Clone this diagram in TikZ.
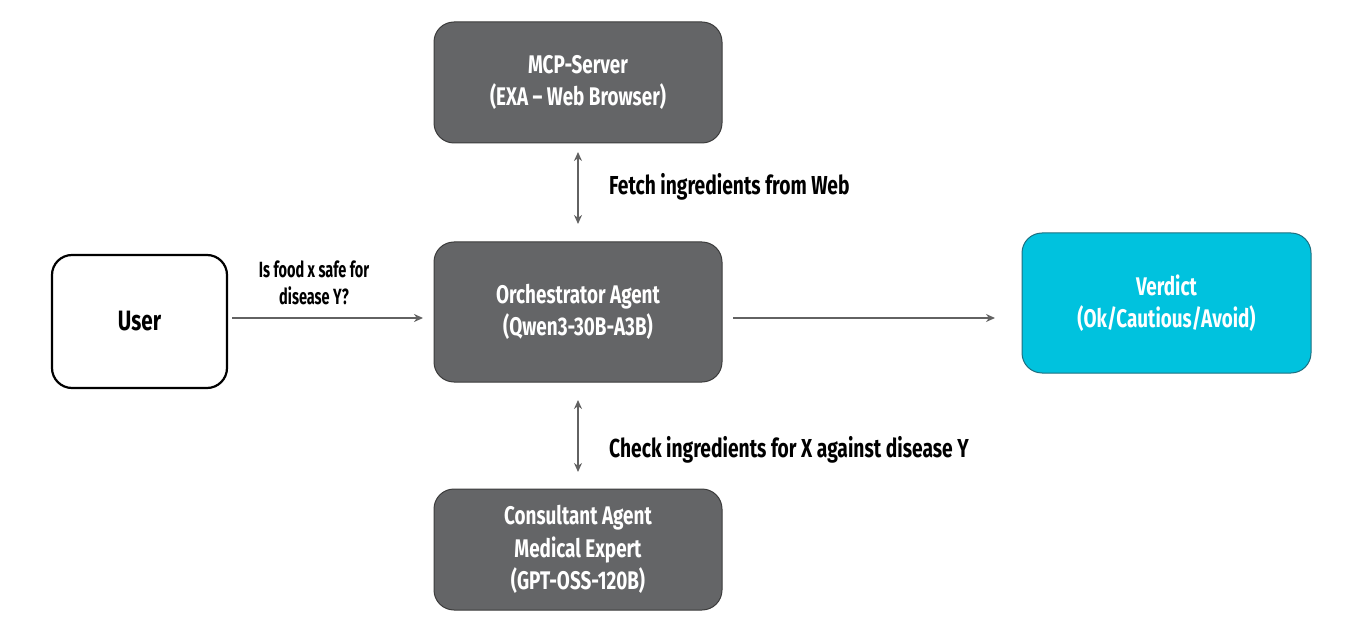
\documentclass[tikz,border=0pt]{standalone}
\usepackage{fontspec}
\setmainfont{Fira Sans}[FakeStretch=0.74]
\newfontfamily\narrowfont{Fira Sans}[FakeStretch=0.66]
\usetikzlibrary{arrows.meta}
\definecolor{boxgray}{HTML}{646567}
\definecolor{boxedge}{HTML}{3C3C3C}
\definecolor{verdictfill}{HTML}{00C2DE}
\definecolor{verdictedge}{HTML}{1E6F80}
\definecolor{arrowgray}{HTML}{626262}
\tikzset{
  graybox/.style={draw=boxedge, line width=1pt, fill=boxgray, rounded corners=20pt, text=white, align=center, font=\bfseries\fontsize{25.5}{32.5}\selectfont, minimum width=288pt, inner sep=0pt},
  userbox/.style={draw=black, line width=2.2pt, fill=white, rounded corners=20pt, text=black, align=center, font=\bfseries\fontsize{28}{32}\selectfont, minimum width=175pt, minimum height=133pt, inner sep=0pt},
  verdictbox/.style={draw=verdictedge, line width=1pt, fill=verdictfill, rounded corners=20pt, text=white, align=center, font=\bfseries\fontsize{25.5}{32.5}\selectfont, minimum width=289pt, minimum height=140pt, inner sep=0pt},
  conn/.style={draw=arrowgray, line width=2.4pt, -{Stealth[length=9pt,width=8pt]}},
  biconn/.style={draw=arrowgray, line width=2.4pt, {Stealth[length=9pt,width=8pt]}-{Stealth[length=9pt,width=8pt]}},
  lbl/.style={text=black, font=\bfseries\fontsize{26}{27}\selectfont, inner sep=0pt},
  smalllbl/.style={text=black, font=\narrowfont\bfseries\fontsize{22}{27}\selectfont, inner sep=0pt, align=center},
}
\begin{document}
\begin{tikzpicture}[x=1pt,y=-1pt]
\useasboundingbox (0,0) rectangle (1345,631);
\node[graybox, minimum height=121pt] (mcp) at (578,82.5) {MCP-Server\\(EXA -- Web Browser)};
\node[graybox, minimum height=140pt] (orch) at (578,312) {Orchestrator Agent\\(Qwen3-30B-A3B)};
\node[graybox, minimum height=121pt] (cons) at (578,549.5) {Consultant Agent\\Medical Expert\\(GPT-OSS-120B)};
\node[userbox] (user) at (139.5,321.5) {User};
\node[verdictbox] (verd) at (1166.5,303) {Verdict\\(Ok/Cautious/Avoid)};
\coordinate (ua) at (232,318);
\coordinate (ob) at (423,318);
\coordinate (oc) at (733,318);
\coordinate (vd) at (995,318);
\coordinate (t1) at (578,152);
\coordinate (t2) at (578,224);
\coordinate (b1) at (578,400);
\coordinate (b2) at (578,472);
\draw[conn] (ua) -- (ob);
\draw[conn] (oc) -- (vd);
\draw[biconn] (t1) -- (t2);
\draw[biconn] (b1) -- (b2);
\node[smalllbl] (q) at (314,283) {Is food x safe for\\disease Y?};
\node[lbl, anchor=west] (f) at (609,187) {Fetch ingredients from Web};
\node[lbl, anchor=west] (c) at (609,450) {Check ingredients for X against disease Y};
\end{tikzpicture}
\end{document}
